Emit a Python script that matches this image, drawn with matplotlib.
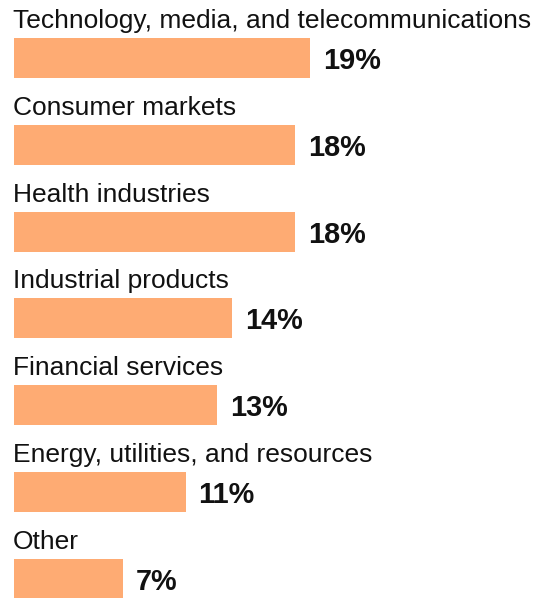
import matplotlib.pyplot as plt

categories = [
    "Technology, media, and telecommunications",
    "Consumer markets",
    "Health industries",
    "Industrial products",
    "Financial services",
    "Energy, utilities, and resources",
    "Other",
]
shares = [19, 18, 18, 14, 13, 11, 7]
value_labels = ["19%", "18%", "18%", "14%", "13%", "11%", "7%"]

BAR_COLOR = "#FEAB73"
W, H = 547, 598
PX_PER_PCT = 15.6   # horizontal pixels per percentage point
ROW_PX = 86.8       # vertical pixels per row
FIRST_ROW_PX = 58   # centre of the first bar
LEFT_PX = 14

plt.rcParams["font.family"] = ["Liberation Sans", "DejaVu Sans"]

fig = plt.figure(figsize=(W / 100, H / 100), dpi=100)
ax = fig.add_axes([0, 0, 1, 1])
ax.set_xlim(-LEFT_PX / PX_PER_PCT, (W - LEFT_PX) / PX_PER_PCT)
ax.set_ylim((H - FIRST_ROW_PX) / ROW_PX, -FIRST_ROW_PX / ROW_PX)
ax.axis("off")

rows = range(len(categories))
ax.barh(list(rows), shares, height=40 / ROW_PX, left=0, color=BAR_COLOR)

for i, (cat, val, lab) in enumerate(zip(categories, shares, value_labels)):
    ax.text(-0.05, i - 30 / ROW_PX, cat, fontsize=19, color="#111111",
            ha="left", va="baseline")
    ax.text(val + 13 / PX_PER_PCT, i + 11 / ROW_PX, lab, fontsize=20.8,
            fontweight="bold", color="#111111", ha="left", va="baseline")

fig.savefig("out.png", dpi=100)
